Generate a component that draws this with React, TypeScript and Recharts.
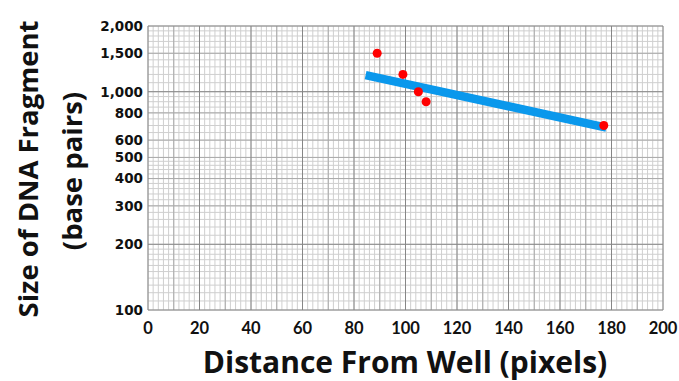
import { ReferenceLine, Scatter, ScatterChart, XAxis, YAxis } from "recharts";

// measured points (distance in px, size in bp)
const distances = [89, 99, 105, 108, 177];
const sizes = [1500, 1200, 1000, 900, 700];

// best-fit line end points
const fitX = [84.5, 178];
const fitY = [1190, 685];

const xTicks = [0, 20, 40, 60, 80, 100, 120, 140, 160, 180, 200];
const yTicks = [100, 200, 300, 400, 500, 600, 800, 1000, 1500, 2000];

// semi-log graph paper lines
const xMinor = Array.from({ length: 101 }, (_, i) => i * 2);
const xMid = [10, 30, 50, 70, 90, 110, 130, 150, 170, 190];
const xMajor = xTicks;
const yMinor = [
  ...Array.from({ length: 10 }, (_, i) => 100 + i * 10),
  ...Array.from({ length: 15 }, (_, i) => 200 + i * 20),
  ...Array.from({ length: 10 }, (_, i) => 500 + i * 50),
  ...Array.from({ length: 11 }, (_, i) => 1000 + i * 100),
];
const yMid = [300, 400, 500, 600, 800, 1500];
const yMajor = [100, 200, 1000, 2000];

const points = distances.map((d, i) => ({ x: d, y: sizes[i] }));

const W = 679;
const H = 381;
const TITLE_FONT = "'Open Sans', sans-serif";

function YTitle() {
  const font = { fontFamily: TITLE_FONT, fontWeight: 700, fontSize: 27.5, fill: "#111" };
  return (
    <g>
      <text transform="translate(38,169) rotate(-90)" textAnchor="middle" {...font}>
        Size of DNA Fragment
      </text>
      <text transform="translate(82,171) rotate(-90)" textAnchor="middle" {...font}>
        (base pairs)
      </text>
    </g>
  );
}

function XTitle() {
  return (
    <text
      x={405}
      y={373}
      textAnchor="middle"
      fontFamily={TITLE_FONT}
      fontWeight={700}
      fontSize={30}
      fill="#111"
    >
      Distance From Well (pixels)
    </text>
  );
}

export default function App() {
  return (
    <div style={{ position: "absolute", left: 0, top: 0, width: W, height: H, background: "#fff" }}>
      <ScatterChart width={W} height={H} margin={{ top: 26, right: 16, bottom: 0, left: 0 }}>
        <XAxis
          type="number"
          dataKey="x"
          domain={[0, 200]}
          ticks={xTicks}
          interval={0}
          height={71}
          axisLine={false}
          tickLine={false}
          tickSize={0}
          tickMargin={12}
          tick={{ fontFamily: "Lato, sans-serif", fontWeight: 700, fontSize: 16.5, fill: "#111" }}
          label={{ content: () => <XTitle /> }}
        />
        <YAxis
          type="number"
          dataKey="y"
          scale="log"
          domain={[100, 2000]}
          ticks={yTicks}
          interval={0}
          width={148}
          axisLine={false}
          tickLine={false}
          tickSize={0}
          tickMargin={5}
          tickFormatter={(v: number) => v.toLocaleString("en-US")}
          tick={{ fontFamily: "'DejaVu Sans', sans-serif", fontWeight: 700, fontSize: 13.5, fill: "#111" }}
          label={{ content: () => <YTitle /> }}
        />
        {xMinor.map((v) => (
          <ReferenceLine key={`xm${v}`} x={v} stroke="#cfcfcf" strokeWidth={1} />
        ))}
        {yMinor.map((v) => (
          <ReferenceLine key={`ym${v}`} y={v} stroke="#cfcfcf" strokeWidth={1} />
        ))}
        {xMid.map((v) => (
          <ReferenceLine key={`xd${v}`} x={v} stroke="#aaaaaa" strokeWidth={1} />
        ))}
        {yMid.map((v) => (
          <ReferenceLine key={`yd${v}`} y={v} stroke="#aaaaaa" strokeWidth={1} />
        ))}
        {xMajor.map((v) => (
          <ReferenceLine key={`xM${v}`} x={v} stroke="#868686" strokeWidth={1} />
        ))}
        {yMajor.map((v) => (
          <ReferenceLine key={`yM${v}`} y={v} stroke="#868686" strokeWidth={1} />
        ))}
        <ReferenceLine
          segment={[
            { x: fitX[0], y: fitY[0] },
            { x: fitX[1], y: fitY[1] },
          ]}
          stroke="#0a98ec"
          strokeWidth={8.5}
        />
        <Scatter data={points} fill="#ff0000" isAnimationActive={false} shape="circle" />
      </ScatterChart>
    </div>
  );
}
